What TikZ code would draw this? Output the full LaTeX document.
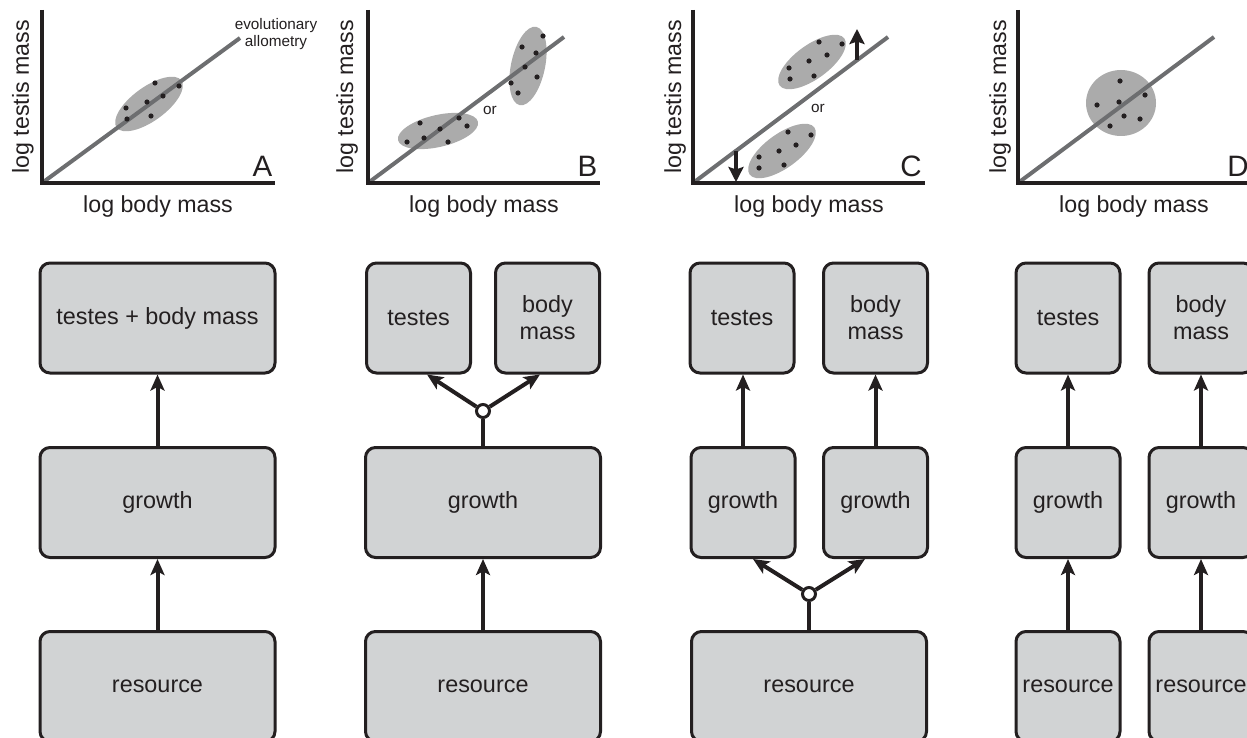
\documentclass[tikz,border=0pt]{standalone}
\usepackage{fontspec}
\setmainfont{Liberation Sans}
\usetikzlibrary{arrows.meta,calc}
\definecolor{ink}{HTML}{231F20}
\definecolor{boxfill}{HTML}{D1D3D4}
\definecolor{cloud}{HTML}{ABABAB}
\definecolor{regline}{HTML}{6D6E70}
\begin{document}
\begin{tikzpicture}[x=1pt,y=-1pt,
  box/.style={draw=ink, fill=boxfill, line width=3pt, rounded corners=10pt,
    text=ink, align=center, inner sep=0pt, minimum height=110pt,
    font=\fontsize{23.4}{27}\selectfont},
  widebox/.style={box, minimum width=235pt},
  narrowbox/.style={box, minimum width=104pt},
  arr/.style={draw=ink, line width=4pt, -{Stealth[length=16pt,width=14pt,inset=3.5pt]}},
  plain/.style={draw=ink, line width=4pt},
  junction/.style={circle, draw=ink, fill=white, line width=3pt, minimum size=13pt, inner sep=0pt},
  axis/.style={draw=ink, line width=4pt},
  reg/.style={draw=regline, line width=4pt},
  cloudfill/.style={fill=cloud},
  shiftarrow/.style={draw=ink, line width=4pt, -{Stealth[length=15pt,width=15pt,inset=2.5pt]}},
  lbl/.style={text=ink, inner sep=0pt, font=\fontsize{23.2}{27}\selectfont},
  small/.style={text=ink, inner sep=0pt, align=center, font=\fontsize{15.3}{17}\selectfont},
  panel/.style={text=ink, inner sep=0pt, font=\fontsize{29.5}{36}\selectfont}
]
\useasboundingbox (0,0) rectangle (1247,738);
\clip (0,0) rectangle (1247,738);

% ---------- dot macro ----------
\newcommand{\dotat}[2]{\fill[ink] (#1,#2) circle[radius=2.6pt];}

% ================= Panel A plot =================
\fill[cloudfill, rotate around={36:(149,104)}] (149,104) ellipse[x radius=40pt, y radius=17pt];
\draw[reg] (42,183) -- (240,38);
\draw[axis] (42,10) -- (42,183) -- (275,183);
\dotat{126}{108}\dotat{127}{119}\dotat{147}{102}\dotat{155}{83}\dotat{151}{116}\dotat{163}{96}\dotat{179}{86}
\node[small] (evo) at (276,34.5) {evolutionary\\allometry};
\node[panel] (la) at (262.5,166.5) {A};
\node[lbl, rotate=90] (ya) at (23,97) {log testis mass};
\node[lbl] (xa) at (158,206.5) {log body mass};

% ================= Panel B plot =================
\fill[cloudfill, rotate around={13:(438,131)}] (438,131) ellipse[x radius=41pt, y radius=16pt];
\fill[cloudfill, rotate around={78:(528,66)}] (528,66) ellipse[x radius=40pt, y radius=17pt];
\draw[reg] (368,183) -- (564,37);
\draw[axis] (368,10) -- (368,183) -- (600,183);
\dotat{407}{142}\dotat{420}{123}\dotat{424}{138}\dotat{440}{129}\dotat{448}{142}\dotat{459}{118}\dotat{467}{126}
\dotat{522}{47}\dotat{543}{36}\dotat{536}{53}\dotat{525}{67}\dotat{537}{77}\dotat{511}{83}\dotat{518}{93}
\node[small] (orb) at (490,110) {or};
\node[panel] (lb) at (587.5,166.5) {B};
\node[lbl, rotate=90] (yb) at (347,97) {log testis mass};
\node[lbl] (xb) at (484,206.5) {log body mass};

% ================= Panel C plot =================
\fill[cloudfill, rotate around={36:(812,62)}] (812,62) ellipse[x radius=40pt, y radius=17pt];
\fill[cloudfill, rotate around={36:(782,151)}] (782,151) ellipse[x radius=40pt, y radius=17pt];
\draw[reg] (693,183) -- (888,37);
\draw[axis] (693,10) -- (693,183) -- (925,183);
\dotat{789}{68}\dotat{790}{79}\dotat{809}{61}\dotat{814}{76}\dotat{819}{42}\dotat{827}{55}\dotat{842}{44}
\dotat{759}{157}\dotat{759}{168}\dotat{779}{151}\dotat{784}{165}\dotat{788}{132}\dotat{796}{145}\dotat{811}{135}
\coordinate (cu0) at (857,60); \coordinate (cu1) at (857,29);
\coordinate (cd0) at (736,151); \coordinate (cd1) at (736,182);
\draw[shiftarrow] (cu0) -- (cu1);
\draw[shiftarrow] (cd0) -- (cd1);
\node[small] (orc) at (818,108) {or};
\node[panel] (lc) at (911,166.5) {C};
\node[lbl, rotate=90] (yc) at (675,97) {log testis mass};
\node[lbl] (xc) at (809,206.5) {log body mass};

% ================= Panel D plot =================
\fill[cloudfill] (1121,103) ellipse[x radius=35pt, y radius=33pt];
\draw[reg] (1018,183) -- (1214,37);
\draw[axis] (1018,10) -- (1018,183) -- (1250,183);
\dotat{1120}{81}\dotat{1097}{105}\dotat{1119}{102}\dotat{1145}{95}\dotat{1124}{116}\dotat{1140}{119}\dotat{1110}{126}
\node[panel] (ld) at (1238,166.5) {D};
\node[lbl, rotate=90] (yd) at (1000,97) {log testis mass};
\node[lbl] (xd) at (1134,206.5) {log body mass};

% ================= Panel A boxes =================
\node[widebox] (ta) at (157.5,318) {testes + body mass};
\node[widebox] (ga) at (157.5,502.5) {growth};
\node[widebox] (ra) at (157.5,686.5) {resource};
\draw[arr] (ga.north) -- (ta.south);
\draw[arr] (ra.north) -- (ga.south);

% ================= Panel B boxes =================
\node[narrowbox] (tb) at (418.5,318) {testes};
\node[narrowbox] (bb) at (547.5,318) {body\\mass};
\node[widebox] (gb) at (483,502.5) {growth};
\node[widebox] (rb) at (483,686.5) {resource};
\node[junction] (jb) at (483,411) {};
\draw[plain] (gb.north) -- (jb);
\draw[arr] (jb) -- ($(tb.south)+(8.5,0)$);
\draw[arr] (jb) -- ($(bb.south)+(-7.5,0)$);
\draw[arr] (rb.north) -- (gb.south);

% ================= Panel C boxes =================
\node[narrowbox] (tc) at (742,318) {testes};
\node[narrowbox] (bc) at (875.5,318) {body\\mass};
\node[narrowbox] (gc1) at (743,502.5) {growth};
\node[narrowbox] (gc2) at (875.5,502.5) {growth};
\node[widebox] (rc) at (809,686.5) {resource};
\node[junction] (jc) at (809,594) {};
\draw[arr] (gc1.north) -- (gc1.north |- tc.south);
\draw[arr] (gc2.north) -- (gc2.north |- bc.south);
\draw[plain] (rc.north) -- (jc);
\draw[arr] (jc) -- ($(gc1.south)+(10,0)$);
\draw[arr] (jc) -- ($(gc2.south)+(-10.5,0)$);

% ================= Panel D boxes =================
\node[narrowbox] (td) at (1068,318) {testes};
\node[narrowbox] (bd) at (1201,318) {body\\mass};
\node[narrowbox] (gd1) at (1068,502.5) {growth};
\node[narrowbox] (gd2) at (1201,502.5) {growth};
\node[narrowbox] (rd1) at (1068,686.5) {resource};
\node[narrowbox] (rd2) at (1201,686.5) {resource};
\draw[arr] (gd1.north) -- (td.south);
\draw[arr] (gd2.north) -- (bd.south);
\draw[arr] (rd1.north) -- (gd1.south);
\draw[arr] (rd2.north) -- (gd2.south);
\end{tikzpicture}
\end{document}
